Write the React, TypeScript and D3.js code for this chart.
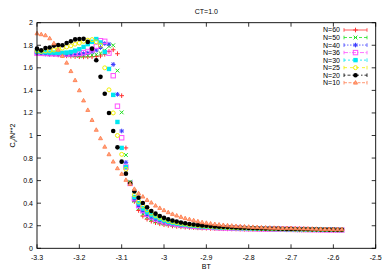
import React from 'react';
import * as d3 from 'd3';

const BT = [-3.30,-3.29,-3.28,-3.27,-3.26,-3.25,-3.24,-3.23,-3.22,-3.21,-3.20,-3.19,-3.18,-3.17,-3.16,-3.15,-3.14,-3.13,-3.12,-3.11,-3.10,-3.09,-3.08,-3.07,-3.06,-3.05,-3.04,-3.03,-3.02,-3.01,-3.00,-2.99,-2.98,-2.97,-2.96,-2.95,-2.94,-2.93,-2.92,-2.91,-2.90,-2.89,-2.88,-2.87,-2.86,-2.85,-2.84,-2.83,-2.82,-2.81,-2.80,-2.79,-2.78,-2.77,-2.76,-2.75,-2.74,-2.73,-2.72,-2.71,-2.70,-2.69,-2.68,-2.67,-2.66,-2.65,-2.64,-2.63,-2.62,-2.61,-2.60,-2.59,-2.58];

const N60 = [1.735,1.73,1.726,1.722,1.718,1.714,1.71,1.706,1.703,1.70,1.698,1.697,1.697,1.698,1.70,1.705,1.72,1.745,1.76,1.725,1.353,0.89,0.575,0.415,0.335,0.285,0.258,0.24,0.227,0.217,0.209,0.203,0.198,0.194,0.190,0.187,0.185,0.183,0.181,0.179,0.178,0.176,0.175,0.174,0.173,0.172,0.171,0.171,0.170,0.169,0.169,0.168,0.168,0.167,0.167,0.166,0.166,0.165,0.165,0.164,0.164,0.164,0.163,0.163,0.162,0.162,0.162,0.161,0.161,0.161,0.160,0.160,0.160];
const N50 = [1.74,1.735,1.73,1.725,1.722,1.72,1.716,1.713,1.71,1.708,1.706,1.706,1.708,1.712,1.718,1.73,1.755,1.79,1.80,1.575,1.205,0.827,0.59,0.42,0.355,0.305,0.275,0.253,0.238,0.227,0.218,0.211,0.205,0.200,0.196,0.193,0.190,0.187,0.185,0.183,0.181,0.180,0.178,0.177,0.176,0.175,0.174,0.173,0.172,0.171,0.171,0.170,0.169,0.169,0.168,0.168,0.167,0.167,0.166,0.166,0.165,0.165,0.164,0.164,0.163,0.163,0.162,0.162,0.162,0.161,0.161,0.160,0.160];
const N40 = [1.728,1.725,1.722,1.72,1.72,1.718,1.717,1.716,1.716,1.718,1.72,1.725,1.732,1.742,1.757,1.78,1.815,1.81,1.63,1.365,1.04,0.762,0.585,0.43,0.37,0.325,0.292,0.27,0.253,0.24,0.229,0.221,0.214,0.208,0.203,0.199,0.196,0.193,0.190,0.188,0.186,0.184,0.182,0.181,0.179,0.178,0.177,0.176,0.175,0.174,0.173,0.173,0.172,0.171,0.171,0.170,0.169,0.169,0.168,0.168,0.167,0.167,0.166,0.166,0.165,0.165,0.164,0.164,0.163,0.163,0.162,0.162,0.161];
const N36 = [1.73,1.728,1.727,1.725,1.725,1.724,1.723,1.723,1.724,1.726,1.728,1.735,1.745,1.76,1.79,1.84,1.835,1.73,1.53,1.26,0.98,0.72,0.575,0.44,0.38,0.335,0.30,0.278,0.26,0.246,0.235,0.226,0.218,0.212,0.207,0.203,0.199,0.196,0.193,0.190,0.188,0.186,0.184,0.182,0.181,0.180,0.178,0.177,0.176,0.175,0.174,0.174,0.173,0.172,0.171,0.171,0.170,0.169,0.169,0.168,0.168,0.167,0.167,0.166,0.166,0.165,0.165,0.164,0.164,0.163,0.163,0.162,0.162];
const N30 = [1.745,1.74,1.738,1.735,1.735,1.733,1.733,1.735,1.74,1.752,1.765,1.785,1.81,1.83,1.855,1.825,1.74,1.59,1.36,1.12,0.89,0.72,0.58,0.455,0.40,0.355,0.32,0.295,0.275,0.259,0.246,0.235,0.226,0.219,0.213,0.208,0.204,0.200,0.197,0.194,0.191,0.189,0.187,0.185,0.183,0.182,0.180,0.179,0.178,0.177,0.176,0.175,0.174,0.173,0.173,0.172,0.171,0.171,0.170,0.169,0.169,0.168,0.168,0.167,0.167,0.166,0.166,0.165,0.165,0.164,0.164,0.163,0.163];
const N25 = [1.75,1.745,1.75,1.752,1.758,1.765,1.775,1.785,1.795,1.81,1.82,1.835,1.845,1.85,1.83,1.80,1.60,1.405,1.20,1.00,0.833,0.70,0.58,0.475,0.415,0.375,0.34,0.312,0.29,0.272,0.257,0.245,0.235,0.227,0.22,0.214,0.209,0.205,0.201,0.198,0.195,0.192,0.190,0.188,0.186,0.184,0.183,0.181,0.180,0.179,0.178,0.177,0.176,0.175,0.174,0.173,0.173,0.172,0.171,0.171,0.170,0.169,0.169,0.168,0.168,0.167,0.167,0.166,0.166,0.165,0.165,0.164,0.164];
const N20 = [1.77,1.755,1.775,1.78,1.797,1.802,1.80,1.82,1.835,1.852,1.856,1.857,1.83,1.77,1.667,1.52,1.37,1.20,1.04,0.895,0.768,0.662,0.573,0.505,0.449,0.402,0.363,0.331,0.307,0.287,0.27,0.257,0.246,0.237,0.229,0.222,0.216,0.211,0.207,0.203,0.200,0.197,0.194,0.192,0.190,0.188,0.186,0.185,0.183,0.182,0.180,0.179,0.178,0.177,0.176,0.175,0.175,0.174,0.173,0.172,0.172,0.171,0.170,0.170,0.169,0.168,0.168,0.167,0.167,0.166,0.166,0.165,0.165];
const N10 = [1.905,1.897,1.888,1.861,1.817,1.76,1.705,1.645,1.57,1.49,1.40,1.31,1.226,1.137,1.05,0.975,0.90,0.833,0.768,0.709,0.659,0.606,0.57,0.526,0.487,0.458,0.428,0.405,0.378,0.357,0.337,0.319,0.304,0.29,0.278,0.266,0.257,0.248,0.239,0.231,0.225,0.219,0.214,0.210,0.206,0.203,0.200,0.197,0.195,0.193,0.191,0.189,0.187,0.185,0.184,0.182,0.181,0.180,0.179,0.178,0.178,0.177,0.176,0.175,0.174,0.173,0.172,0.171,0.170,0.170,0.169,0.168,0.168];

const seriesLabels = ['N=60', 'N=50', 'N=40', 'N=36', 'N=30', 'N=25', 'N=20', 'N=10'];
const seriesValues = [N60, N50, N40, N36, N30, N25, N20, N10];
const seriesColors = ['#ff3030', '#20e020', '#3a3aff', '#ff50ff', '#00e6f0', '#f0f000', '#000000', '#ff7f50'];
const seriesMarkers = ['plus', 'cross', 'star', 'osquare', 'fsquare', 'ocircle', 'fcircle', 'otri'];
const seriesDash = ['', '3,2', '1.5,1.5', '4,1.5,1,1.5', '2,2', '3,3', '1.5,2,3,2', '3,1.5'];

const xTicks = [-3.3, -3.2, -3.1, -3.0, -2.9, -2.8, -2.7, -2.6, -2.5];
const yTicks = [0, 0.2, 0.4, 0.6, 0.8, 1.0, 1.2, 1.4, 1.6, 1.8, 2.0];

const W = 389, H = 273;
const L = 37, R = 375.7, T = 22.7, B = 248.3;
const FONT = '"Liberation Sans", Arial, sans-serif';

function Marker({ type, x, y, color }: { type: string; x: number; y: number; color: string }) {
  const s = 2.3;
  switch (type) {
    case 'plus':
      return <path d={`M${x - s},${y}H${x + s}M${x},${y - s}V${y + s}`} stroke={color} strokeWidth={1} fill="none" />;
    case 'cross':
      return <path d={`M${x - 1.9},${y - 1.9}L${x + 1.9},${y + 1.9}M${x - 1.9},${y + 1.9}L${x + 1.9},${y - 1.9}`} stroke={color} strokeWidth={1} fill="none" />;
    case 'star':
      return <path d={`M${x - s},${y}H${x + s}M${x},${y - s}V${y + s}M${x - 1.7},${y - 1.7}L${x + 1.7},${y + 1.7}M${x - 1.7},${y + 1.7}L${x + 1.7},${y - 1.7}`} stroke={color} strokeWidth={1} fill="none" />;
    case 'osquare':
      return <rect x={x - 2.2} y={y - 2.2} width={4.4} height={4.4} stroke={color} strokeWidth={1} fill="none" />;
    case 'fsquare':
      return <rect x={x - 2.2} y={y - 2.2} width={4.4} height={4.4} fill={color} />;
    case 'ocircle':
      return <circle cx={x} cy={y} r={2.0} stroke={color} strokeWidth={1} fill="none" />;
    case 'fcircle':
      return <circle cx={x} cy={y} r={2.3} fill={color} />;
    case 'otri':
      return <path d={`M${x},${y - 2.1}L${x + 2.0},${y + 1.4}L${x - 2.0},${y + 1.4}Z`} stroke={color} strokeWidth={0.9} fill="#ffa57f" />;
    default:
      return null;
  }
}

export default function App() {
  const x = d3.scaleLinear().domain([-3.3, -2.5]).range([L, R]);
  const y = d3.scaleLinear().domain([0, 2]).range([B, T]);
  const fmt = (v: number) => String(+v.toFixed(1));
  const tickLen = 4;
  const legendY0 = 30, legendDy = 7.53, legendTextX = 340, legendL = 344, legendR = 367;

  return (
    <svg width={W} height={H} style={{ position: 'absolute', left: 0, top: 0, background: '#fff' }} fontFamily={FONT}>
      <rect x={0} y={0} width={W} height={H} fill="#fff" />
      <text x={(L + R) / 2} y={14} fontSize={7} textAnchor="middle" fill="#000">CT=1.0</text>
      {xTicks.map((t, i) => (
        <g key={'xt' + i}>
          <line x1={x(t)} x2={x(t)} y1={B} y2={B - tickLen} stroke="#000" strokeWidth={0.8} />
          <line x1={x(t)} x2={x(t)} y1={T} y2={T + tickLen} stroke="#000" strokeWidth={0.8} />
          <text x={x(t)} y={260} fontSize={7} textAnchor="middle" fill="#000">{fmt(t)}</text>
        </g>
      ))}
      {yTicks.map((t, i) => (
        <g key={'yt' + i}>
          <line x1={L} x2={L + tickLen} y1={y(t)} y2={y(t)} stroke="#000" strokeWidth={0.8} />
          <line x1={R} x2={R - tickLen} y1={y(t)} y2={y(t)} stroke="#000" strokeWidth={0.8} />
          <text x={33} y={y(t)} dy="0.35em" fontSize={7} textAnchor="end" fill="#000">{fmt(t)}</text>
        </g>
      ))}
      <text x={(L + R) / 2} y={269} fontSize={7} textAnchor="middle" fill="#000">BT</text>
      <text transform={`translate(15,${(T + B) / 2}) rotate(-90)`} fontSize={7} textAnchor="middle" fill="#000">
        C<tspan fontSize={5} dy={1.5}>v</tspan><tspan dy={-1.5}>/N**2</tspan>
      </text>
      {seriesValues.map((vals, si) => (
        <g key={'s' + si}>
          {vals.map((v, i) => (
            <Marker key={i} type={seriesMarkers[si]} x={x(BT[i])} y={y(v)} color={seriesColors[si]} />
          ))}
        </g>
      ))}
      {seriesLabels.map((lab, si) => {
        const ly = legendY0 + si * legendDy;
        return (
          <g key={'lg' + si}>
            <text x={legendTextX} y={ly} dy="0.35em" fontSize={7} textAnchor="end" fill="#000">{lab}</text>
            <line x1={legendL} x2={legendR} y1={ly} y2={ly} stroke={seriesColors[si]} strokeWidth={0.8} strokeDasharray={seriesDash[si]} />
            <line x1={legendL} x2={legendL} y1={ly - 1.8} y2={ly + 1.8} stroke={seriesColors[si]} strokeWidth={0.8} />
            <line x1={legendR} x2={legendR} y1={ly - 1.8} y2={ly + 1.8} stroke={seriesColors[si]} strokeWidth={0.8} />
            <Marker type={seriesMarkers[si]} x={(legendL + legendR) / 2} y={ly} color={seriesColors[si]} />
          </g>
        );
      })}
      <rect x={L} y={T} width={R - L} height={B - T} fill="none" stroke="#000" strokeWidth={0.9} />
    </svg>
  );
}
